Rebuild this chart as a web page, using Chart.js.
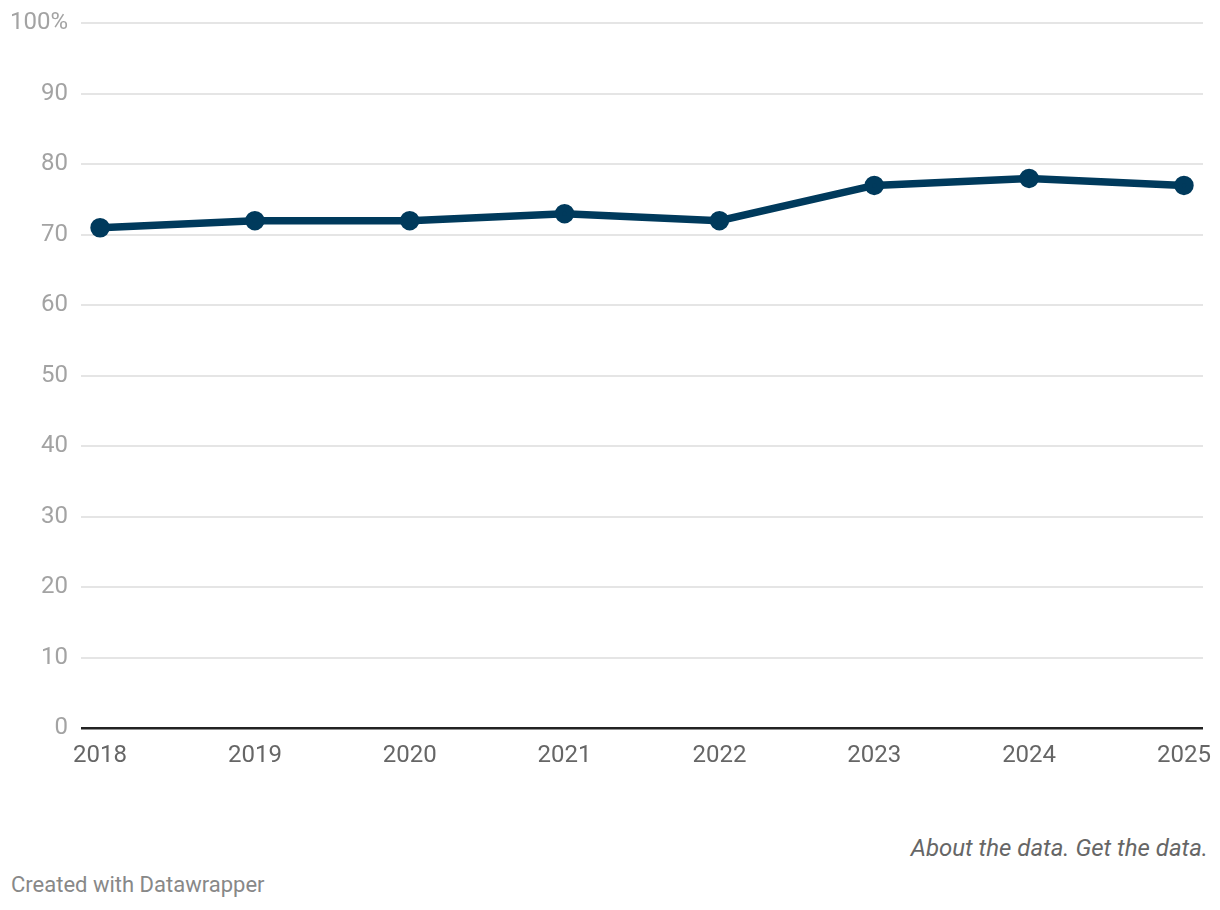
<!DOCTYPE html>
<html>
<head>
<meta charset="utf-8">
<script src="https://cdn.jsdelivr.net/npm/chart.js@4"></script>
<style>
  html, body { margin: 0; padding: 0; background: #fff; overflow: hidden; }
  body { width: 1220px; height: 910px; position: relative; font-family: Roboto, sans-serif; }
  #wrap { position: absolute; left: 0; top: -4px; width: 1220px; height: 774px; }
  .notes { position: absolute; right: 12px; top: 834px; font-size: 24px; font-style: italic; color: #666; }
  .credit { position: absolute; left: 11px; top: 872px; font-size: 22px; color: #888; }
</style>
</head>
<body>
<div id="wrap"><canvas id="chart"></canvas></div>
<div class="notes">About the data. Get the data.</div>
<div class="credit">Created with Datawrapper</div>
<script>
// data
const years = [2018, 2019, 2020, 2021, 2022, 2023, 2024, 2025];
const values = [71, 72, 72, 73, 72, 77, 78, 77];
const yTicks = [0, 10, 20, 30, 40, 50, 60, 70, 80, 90, 100];

const ctx = document.getElementById('chart');
new Chart(ctx, {
  type: 'line',
  data: {
    datasets: [{
      data: years.map((y, i) => ({ x: y, y: values[i] })),
      borderColor: '#003a5c',
      backgroundColor: '#003a5c',
      borderWidth: 7.5,
      pointRadius: 6,
      pointHoverRadius: 6,
      fill: false,
      tension: 0
    }]
  },
  options: {
    responsive: true,
    maintainAspectRatio: false,
    animation: false,
    layout: { padding: { top: 19, right: 17, left: 0, bottom: 0 } },
    plugins: { legend: { display: false }, tooltip: { enabled: false } },
    scales: {
      x: {
        type: 'linear',
        min: 2017.877,
        max: 2025.123,
        afterBuildTicks: s => { s.ticks = years.map(v => ({ value: v })); },
        afterFit: s => { s.height = 42; },
        grid: { display: false },
        border: { display: false },
        ticks: {
          padding: 6,
          color: '#666',
          font: { family: 'Roboto', size: 24 },
          callback: v => String(v)
        }
      },
      y: {
        min: 0,
        max: 100,
        afterBuildTicks: s => { s.ticks = yTicks.map(v => ({ value: v })); },
        afterFit: s => { s.width = 81; },
        border: { display: false },
        grid: {
          drawTicks: false,
          color: c => c.tick && c.tick.value === 0 ? '#222' : '#e5e5e5',
          lineWidth: c => c.tick && c.tick.value === 0 ? 2.5 : 2
        },
        ticks: {
          padding: 13,
          color: '#a3a3a3',
          font: { family: 'Roboto', size: 24 },
          callback: v => v === 100 ? '100%' : v
        }
      }
    }
  }
});
</script>
</body>
</html>
